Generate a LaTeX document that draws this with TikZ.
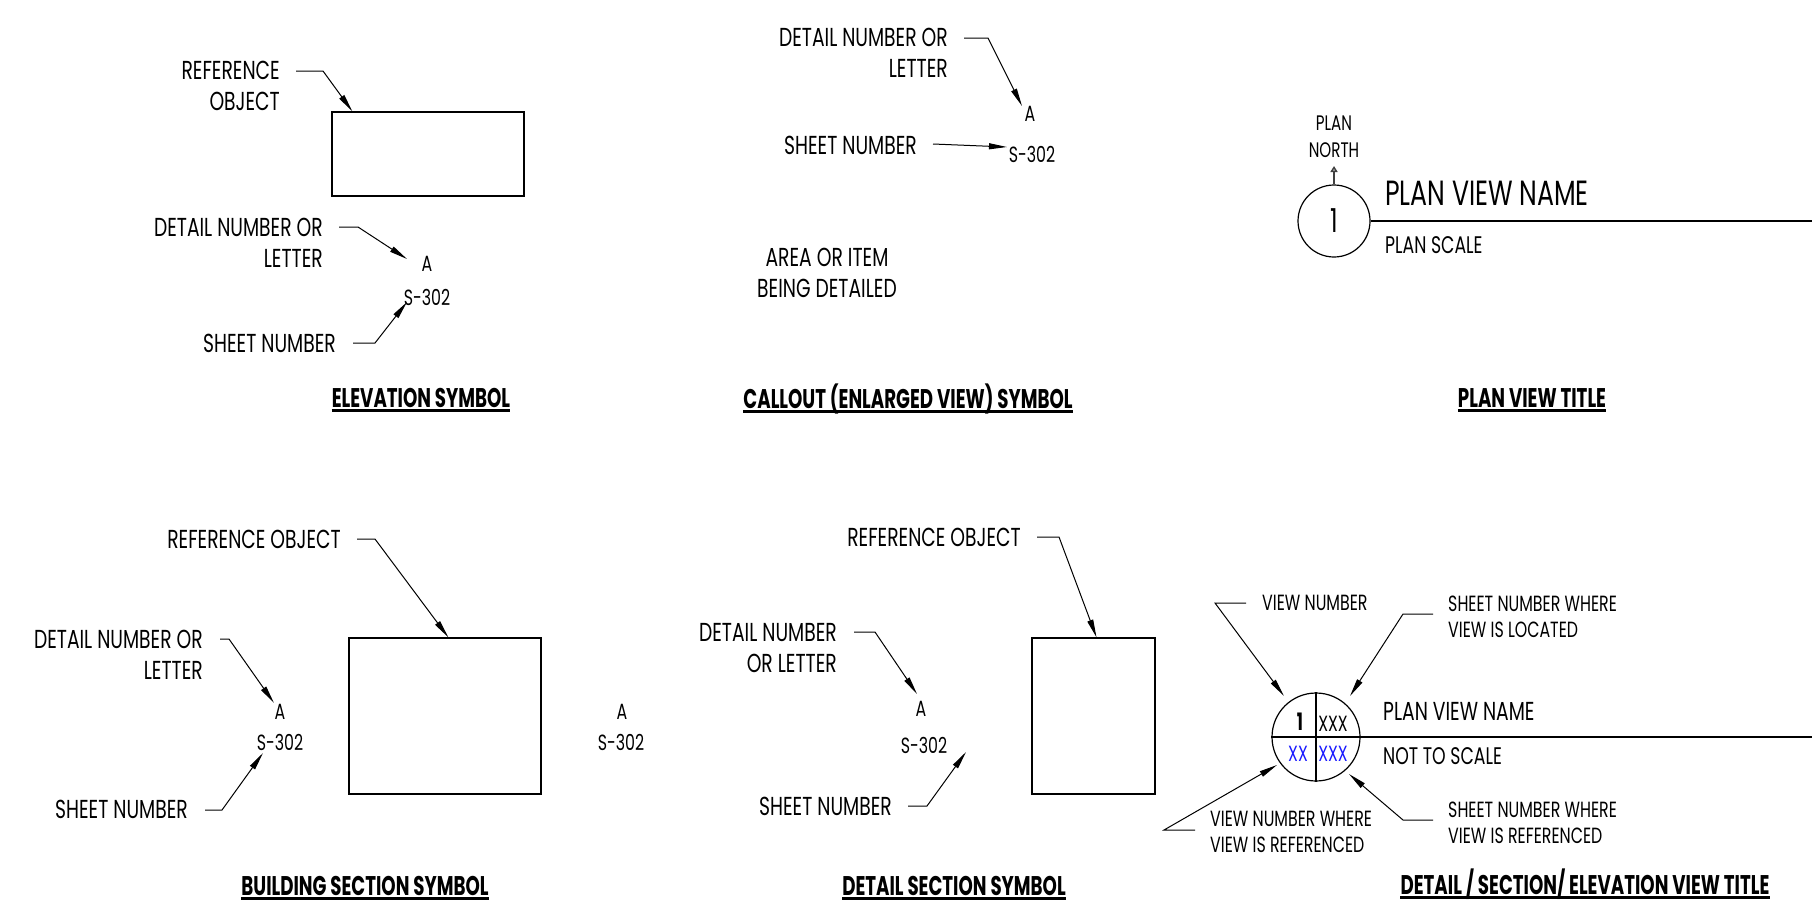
\documentclass[tikz,border=0pt]{standalone}
\usepackage{fontspec}
\setmainfont{Poppins}[FakeStretch=0.72,BoldFeatures={FakeStretch=0.675}]
\usetikzlibrary{arrows.meta,positioning}
\definecolor{refblue}{RGB}{25,25,255}
\tikzset{
  lbl/.style={inner sep=0pt,font=\fontsize{26}{31}\selectfont},
  sml/.style={inner sep=0pt,font=\fontsize{22}{26}\selectfont},
  ttl/.style={inner sep=0pt,anchor=base,font=\bfseries\fontsize{27}{30}\selectfont},
  lead/.style={line width=1pt,-{Triangle[length=18pt,width=6pt]}},
  obj/.style={draw,line width=1.3pt,inner sep=0pt},
  uline/.style={line width=3pt},
}

\begin{document}
\begin{tikzpicture}[x=1pt,y=-1pt]
  \useasboundingbox (0,0) rectangle (1812,905);

  % elevation symbol
  \node[lbl,align=right,anchor=base east] (ref1) at (280,110) {REFERENCE\\OBJECT};
  \node[obj,minimum width=192pt,minimum height=84pt] (obj1) at (428,154) {};
  \node[lbl,align=right,anchor=base east] (det1) at (323,267) {DETAIL NUMBER OR\\LETTER};
  \node[sml,anchor=base] (a1) at (427,271) {A};
  \node[sml,anchor=base] (s1) at (427,305) {S-302};
  \node[lbl,anchor=base east] (sh1) at (336,352) {SHEET NUMBER};
  \node[ttl] (t1) at (421,407) {ELEVATION SYMBOL};
  \draw[lead] ([shift={(16,-39)}]ref1.base east) -- ++(27,0) -- ([xshift=21pt]obj1.north west);
  \draw[lead] ([shift={(16,-40)}]det1.base east) -- ++(19,0) -- ([shift={(-20,-12)}]a1.base);
  \draw[lead] ([shift={(17,-9)}]sh1.base east) -- ++(22,0) -- ([shift={(-20,-3)}]s1.base);

  % callout symbol
  \node[lbl,align=right,anchor=base east] (det2) at (948,77) {DETAIL NUMBER OR\\LETTER};
  \node[sml,anchor=base] (a2) at (1030,121) {A};
  \node[lbl,anchor=base east] (sh2) at (917,154) {SHEET NUMBER};
  \node[sml,anchor=base] (s2) at (1032,162) {S-302};
  \node[lbl,align=center,anchor=base] (area2) at (827,297) {AREA OR ITEM\\BEING DETAILED};
  \node[ttl] (t2) at (908,408) {CALLOUT (ENLARGED VIEW) SYMBOL};
  \draw[lead] ([shift={(16,-39)}]det2.base east) -- ++(24,0) -- ([shift={(-8,-15)}]a2.base);
  \draw[lead] ([shift={(16,-10)}]sh2.base east) -- ([shift={(-25,-15)}]s2.base);

  % plan view title
  \node[draw,circle,line width=1.2pt,minimum size=72pt,inner sep=0pt,font=\fontsize{33}{33}\selectfont] (c3) at (1334,221) {1};
  \node[inner sep=0pt,align=center,anchor=base,font=\fontsize{21}{27}\selectfont] (pn3) at (1334,157) {PLAN\\NORTH};
  \coordinate (n3) at (1334,166);
  \coordinate (e3) at (1812,221);
  \node[anchor=base west,inner sep=0pt,font=\fontsize{35}{35}\selectfont] (pv3) at (1385,205) {PLAN VIEW NAME};
  \node[anchor=base west,inner sep=0pt,font=\fontsize{24}{24}\selectfont] (ps3) at (1385,253) {PLAN SCALE};
  \node[ttl] (t3) at (1532,407) {PLAN VIEW TITLE};
  \draw[line width=1.2pt] (c3.east) -- (e3);
  \draw[line width=1.5pt,black!75,-{Triangle[open,length=6pt,width=7pt]}] (c3.north) -- (n3);

  % building section symbol
  \node[lbl,anchor=base east] (ref4) at (341,548) {REFERENCE OBJECT};
  \node[obj,minimum width=192pt,minimum height=156pt] (obj4) at (445,716) {};
  \node[lbl,align=right,anchor=base east] (det4) at (203,679) {DETAIL NUMBER OR\\LETTER};
  \node[sml,anchor=base] (a4) at (280,719) {A};
  \node[sml,anchor=base] (s4) at (280,750) {S-302};
  \node[lbl,anchor=base east] (sh4) at (188,818) {SHEET NUMBER};
  \node[sml,anchor=base] (a4b) at (622,719) {A};
  \node[sml,anchor=base] (s4b) at (621,750) {S-302};
  \node[ttl] (t4) at (365,895) {BUILDING SECTION SYMBOL};
  \draw[lead] ([shift={(16,-9)}]ref4.base east) -- ++(18,0) -- ([xshift=100pt]obj4.north west);
  \draw[lead] ([shift={(17,-40)}]det4.base east) -- ++(9,0) -- ([shift={(-6,-16)}]a4.base);
  \draw[lead] ([shift={(17,-8)}]sh4.base east) -- ++(17,0) -- ([shift={(-17,3)}]s4.base);

  % detail section symbol
  \node[lbl,anchor=base east] (ref5) at (1021,546) {REFERENCE OBJECT};
  \node[obj,minimum width=123pt,minimum height=156pt] (obj5) at (1093.5,716) {};
  \node[lbl,align=right,anchor=base east] (det5) at (837,672) {DETAIL NUMBER\\OR LETTER};
  \node[sml,anchor=base] (a5) at (921,716) {A};
  \node[sml,anchor=base] (s5) at (924,753) {S-302};
  \node[lbl,anchor=base east] (sh5) at (892,815) {SHEET NUMBER};
  \node[ttl] (t5) at (954,895) {DETAIL SECTION SYMBOL};
  \draw[lead] ([shift={(16,-9)}]ref5.base east) -- ++(22,0) -- ([xshift=3pt]obj5.north);
  \draw[lead] ([shift={(17,-40)}]det5.base east) -- ++(21,0) -- ([shift={(-4,-22)}]a5.base);
  \draw[lead] ([shift={(16,-9)}]sh5.base east) -- ++(19,0) -- ([shift={(42,-1)}]s5.base);

  % detail / section / elevation view title
  \node[draw,circle,line width=1.2pt,minimum size=88pt,inner sep=0pt] (c6) at (1316,737) {};
  \coordinate (e6) at (1812,737);
  \draw[line width=1.2pt] (c6.north) -- (c6.south);
  \draw[line width=1.2pt] (c6.west) -- (e6);
  \node[anchor=base,inner sep=0pt,font=\bfseries\fontsize{24}{24}\selectfont] (n6) at (1300,730) {1};
  \node[sml,anchor=base] (x6) at (1333,731) {XXX};
  \node[sml,anchor=base,text=refblue] (y6) at (1298,761) {XX};
  \node[sml,anchor=base,text=refblue] (z6) at (1333,761) {XXX};
  \node[lbl,anchor=base west] (pv6) at (1383,720) {PLAN VIEW NAME};
  \node[anchor=base west,inner sep=0pt,font=\fontsize{24}{24}\selectfont] (ns6) at (1383,764) {NOT TO SCALE};
  \node[sml,anchor=base west] (vn6) at (1262,610) {VIEW NUMBER};
  \node[sml,align=left,anchor=base west] (sl6) at (1448,637) {SHEET NUMBER WHERE\\VIEW IS LOCATED};
  \node[sml,align=left,anchor=base west] (vr6) at (1210,852) {VIEW NUMBER WHERE\\VIEW IS REFERENCED};
  \node[sml,align=left,anchor=base west] (sr6) at (1448,843) {SHEET NUMBER WHERE\\VIEW IS REFERENCED};
  \node[ttl] (t6) at (1585,894) {DETAIL / SECTION/ ELEVATION VIEW TITLE};
  \draw[lead] ([shift={(-16,-7)}]vn6.base west) -- ++(-31,0) -- ([shift={(-32,-41)}]c6.center);
  \draw[lead] ([shift={(-15,-23)}]sl6.base west) -- ++(-30,0) -- ([shift={(34,-41)}]c6.center);
  \draw[lead] ([shift={(-15,-22)}]vr6.base west) -- ++(-31,0) -- ([shift={(-39,28)}]c6.center);
  \draw[lead] ([shift={(-15,-23)}]sr6.base west) -- ++(-30,0) -- ([shift={(33,37)}]c6.center);

  \foreach \t in {t1,t2,t3,t4,t5,t6}
    \draw[uline] ([yshift=-3.5pt]\t.base west) -- ([yshift=-3.5pt]\t.base east);
\end{tikzpicture}
\end{document}
